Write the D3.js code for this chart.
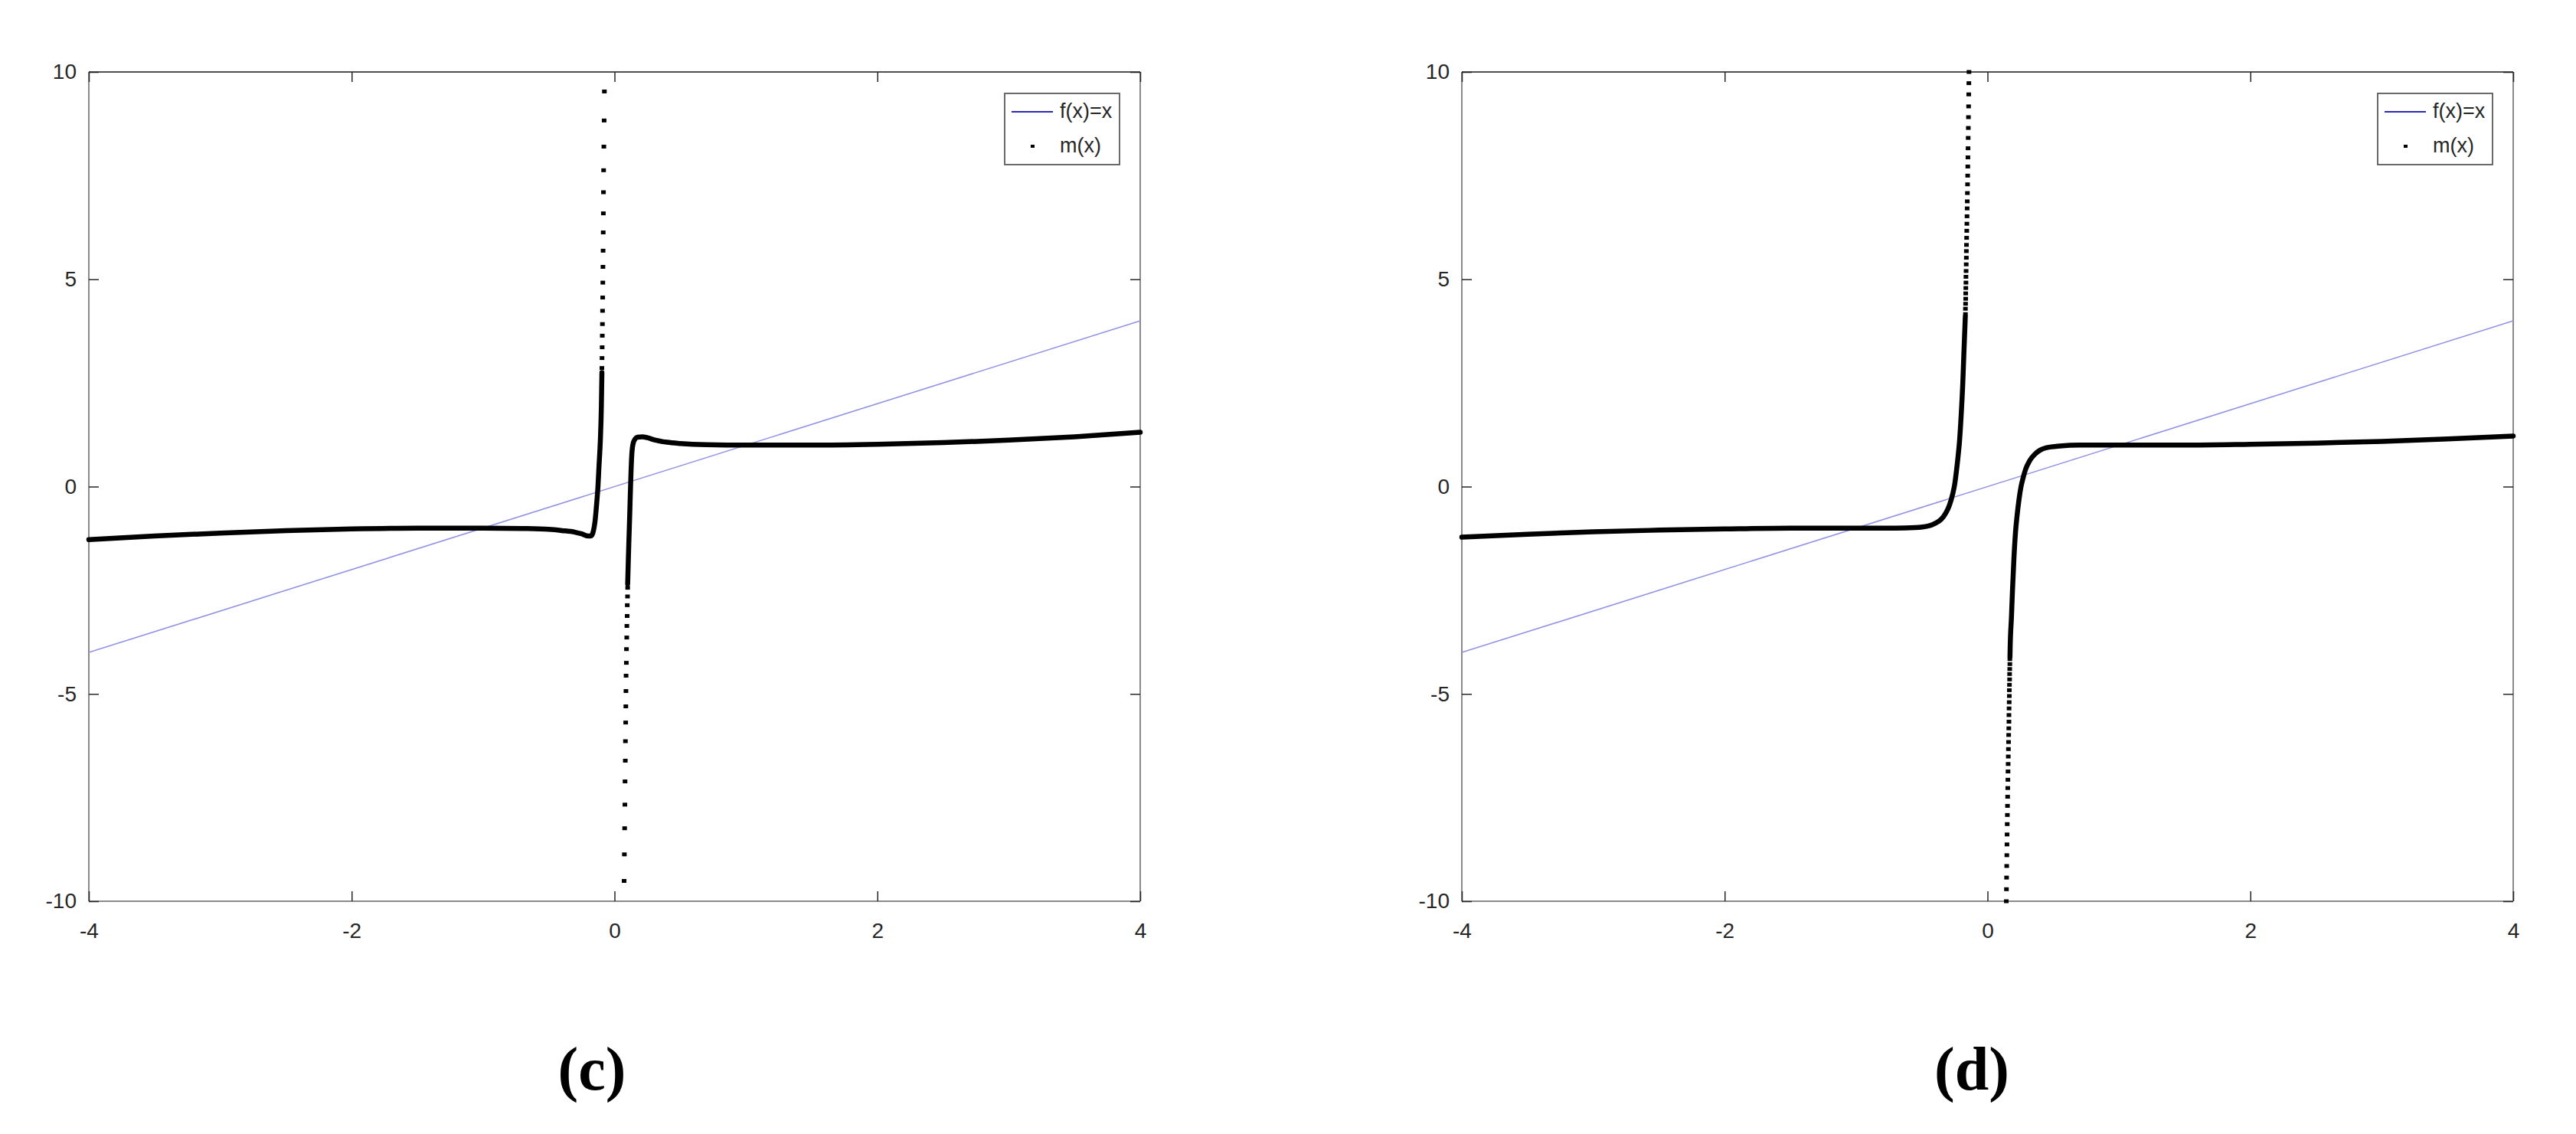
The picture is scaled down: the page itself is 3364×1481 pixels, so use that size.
<!DOCTYPE html>
<html><head><meta charset="utf-8">
<script src="https://cdn.jsdelivr.net/npm/d3@7"></script>
<style>body{margin:0;background:#fff} svg{display:block}</style>
</head><body>
<svg id="chart" width="3364" height="1481"></svg>
<script>
// ---- data ----
const xTicks = [-4, -2, 0, 2, 4];
const yTicks = [-10, -5, 0, 5, 10];
const xDomain = [-4, 4];
const yDomain = [-10, 10];
const identityX = [-4, 4];
const identityY = [-4, 4];
const legendLabels = ["f(x)=x", "m(x)"];
const panelLabels = ["(c)", "(d)"];

// panel (c): m(x)
const cLeftX = [-4, -3.5, -3, -2.5, -2, -1.5, -1, -0.7, -0.5, -0.4, -0.3, -0.25, -0.2, -0.18, -0.165, -0.155, -0.147, -0.141, -0.133, -0.127, -0.118, -0.108, -0.1, -0.096];
const cLeftY = [-1.28, -1.19, -1.12, -1.06, -1.02, -1.0, -1.0, -1.01, -1.03, -1.06, -1.1, -1.14, -1.19, -1.19, -1.12, -0.98, -0.8, -0.6, -0.3, -0.05, 0.5, 1.1, 1.95, 2.75];
const cUpperX = [-0.096, -0.095, -0.094, -0.093, -0.092, -0.091, -0.090, -0.089, -0.088, -0.087, -0.086, -0.085, -0.084, -0.083, -0.081, -0.079, -0.077];
const cUpperY = [2.86, 3.10, 3.36, 3.64, 3.92, 4.24, 4.56, 4.92, 5.30, 5.69, 6.13, 6.59, 7.10, 7.63, 8.20, 8.83, 9.53];
const cLowerX = [0.073, 0.075, 0.077, 0.079, 0.080, 0.082, 0.083, 0.085, 0.086, 0.087, 0.088, 0.090, 0.091, 0.093, 0.094, 0.096, 0.097, 0.099, 0.100];
const cLowerY = [-9.51, -8.87, -8.24, -7.67, -7.11, -6.61, -6.14, -5.69, -5.30, -4.93, -4.56, -4.25, -3.92, -3.64, -3.36, -3.12, -2.86, -2.65, -2.44];
const cRightX = [0.100, 0.104, 0.108, 0.112, 0.116, 0.120, 0.125, 0.131, 0.14, 0.155, 0.175, 0.21, 0.25, 0.3, 0.4, 0.5, 0.7, 1, 1.5, 2, 2.5, 3, 3.5, 4];
const cRightY = [-2.35, -1.9, -1.45, -1.05, -0.65, -0.2, 0.3, 0.75, 1.02, 1.14, 1.19, 1.2, 1.18, 1.13, 1.07, 1.04, 1.01, 1.0, 1.0, 1.02, 1.06, 1.12, 1.2, 1.31];

// panel (d): m(x)
const dLeftX = [-4, -3.5, -3, -2.5, -2, -1.5, -1, -0.7, -0.55, -0.45, -0.4, -0.35, -0.314, -0.29, -0.265, -0.25, -0.236, -0.225, -0.213, -0.2, -0.188, -0.18, -0.172, -0.169];
const dLeftY = [-1.22, -1.15, -1.09, -1.05, -1.02, -1.0, -1.0, -1.0, -0.99, -0.95, -0.89, -0.78, -0.62, -0.45, -0.18, 0.05, 0.39, 0.7, 1.1, 1.75, 2.51, 3.2, 3.85, 4.1];
const dUpperX = [-0.141, -0.142, -0.143, -0.144, -0.145, -0.146, -0.147, -0.148, -0.149, -0.150, -0.151, -0.152, -0.153, -0.154, -0.155, -0.156, -0.157, -0.158, -0.159, -0.160, -0.161, -0.161, -0.162, -0.163, -0.164, -0.164, -0.165, -0.166, -0.166, -0.167, -0.168, -0.168];
const dUpperY = [10.0, 9.73, 9.46, 9.17, 8.91, 8.65, 8.41, 8.16, 7.94, 7.72, 7.50, 7.29, 7.08, 6.88, 6.71, 6.52, 6.34, 6.17, 6.00, 5.83, 5.68, 5.52, 5.36, 5.20, 5.06, 4.92, 4.79, 4.66, 4.53, 4.41, 4.29, 4.16];
const dLowerX = [0.143, 0.144, 0.145, 0.146, 0.147, 0.148, 0.149, 0.150, 0.151, 0.152, 0.153, 0.154, 0.155, 0.156, 0.157, 0.158, 0.159, 0.160, 0.161, 0.162, 0.163, 0.163, 0.164, 0.165, 0.166, 0.166, 0.167, 0.168, 0.168, 0.169, 0.170, 0.170];
const dLowerY = [-10.0, -9.71, -9.43, -9.15, -8.89, -8.63, -8.39, -8.14, -7.92, -7.70, -7.48, -7.27, -7.07, -6.87, -6.69, -6.51, -6.33, -6.16, -5.99, -5.83, -5.67, -5.51, -5.35, -5.20, -5.05, -4.91, -4.78, -4.65, -4.52, -4.40, -4.28, -4.16];
const dRightX = [0.171, 0.172, 0.182, 0.19, 0.201, 0.213, 0.225, 0.24, 0.255, 0.27, 0.29, 0.32, 0.36, 0.4, 0.45, 0.55, 0.7, 1, 1.5, 2, 2.5, 3, 3.5, 4];
const dRightY = [-4.1, -3.92, -3.15, -2.5, -1.73, -1.1, -0.7, -0.3, 0.0, 0.2, 0.42, 0.62, 0.78, 0.88, 0.94, 0.98, 1.0, 1.0, 1.0, 1.02, 1.05, 1.09, 1.15, 1.22];

// ---- layout ----
const plotW = 1373, plotH = 1083, plotTop = 94;
const panels = [
  {left: 116, label: panelLabels[0], labelX: 773,
   curves: [[cLeftX, cLeftY], [cRightX, cRightY]], dots: [[cUpperX, cUpperY], [cLowerX, cLowerY]]},
  {left: 1909, label: panelLabels[1], labelX: 2575,
   curves: [[dLeftX, dLeftY], [dRightX, dRightY]], dots: [[dUpperX, dUpperY], [dLowerX, dLowerY]]}
];

const svg = d3.select("#chart");
svg.append("rect").attr("width", 3364).attr("height", 1481).attr("fill", "#fff");
const font = "'Liberation Sans', Arial, sans-serif";

panels.forEach(p => {
  const g = svg.append("g").attr("transform", `translate(${p.left},${plotTop})`);
  const x = d3.scaleLinear().domain(xDomain).range([0, plotW]);
  const y = d3.scaleLinear().domain(yDomain).range([plotH, 0]);

  // frame
  g.append("line").attr("x1", 0).attr("x2", plotW).attr("y1", 0).attr("y2", 0).attr("stroke", "#505050").attr("stroke-width", 2);
  g.append("line").attr("x1", 0).attr("x2", plotW).attr("y1", plotH).attr("y2", plotH).attr("stroke", "#8a8a8a").attr("stroke-width", 2);
  g.append("line").attr("x1", 0).attr("x2", 0).attr("y1", 0).attr("y2", plotH).attr("stroke", "#8a8a8a").attr("stroke-width", 2);
  g.append("line").attr("x1", plotW).attr("x2", plotW).attr("y1", 0).attr("y2", plotH).attr("stroke", "#8a8a8a").attr("stroke-width", 2);

  const styleAxis = sel => {
    sel.select(".domain").remove();
    sel.selectAll(".tick line").attr("stroke", "#262626").attr("stroke-width", 1.5);
    sel.selectAll(".tick text").attr("fill", "#262626").style("font-family", font).style("font-size", "28px");
  };
  g.append("g").attr("transform", `translate(0,${plotH})`)
    .call(d3.axisBottom(x).tickValues(xTicks).tickSizeInner(-13).tickSizeOuter(0).tickPadding(28).tickFormat(d3.format("d")))
    .call(styleAxis);
  g.append("g")
    .call(d3.axisTop(x).tickValues(xTicks).tickSizeInner(-13).tickSizeOuter(0).tickFormat(""))
    .call(styleAxis);
  g.append("g")
    .call(d3.axisLeft(y).tickValues(yTicks).tickSizeInner(-13).tickSizeOuter(0).tickPadding(16).tickFormat(d3.format("d")))
    .call(styleAxis);
  g.append("g").attr("transform", `translate(${plotW},0)`)
    .call(d3.axisRight(y).tickValues(yTicks).tickSizeInner(-13).tickSizeOuter(0).tickFormat(""))
    .call(styleAxis);
  g.selectAll("text").filter(function(){ return this.textContent.startsWith("−"); })
    .text(function(){ return this.textContent.replace("−", "-"); });

  // f(x)=x
  const line = d3.line().x(d => x(d[0])).y(d => y(d[1]));
  g.append("path").datum(d3.zip(identityX, identityY)).attr("d", line)
    .attr("fill", "none").attr("stroke", "#9393e6").attr("stroke-width", 1.6);

  // m(x) dense parts
  const curveLine = d3.line().x(d => x(d[0])).y(d => y(d[1])).curve(d3.curveMonotoneX);
  p.curves.forEach(([xs, ys]) => {
    g.append("path").datum(d3.zip(xs, ys)).attr("d", curveLine)
      .attr("fill", "none").attr("stroke", "#000").attr("stroke-width", 6.5)
      .attr("stroke-linejoin", "round").attr("stroke-linecap", "round");
  });
  // m(x) sparse dots
  p.dots.forEach(([xs, ys]) => {
    g.selectAll(null).data(d3.zip(xs, ys)).enter().append("rect")
      .attr("x", d => x(d[0]) - 3).attr("y", d => y(d[1]) - 2.5)
      .attr("width", 6).attr("height", 5).attr("fill", "#000");
  });

  // legend
  const lx = plotW - 27 - 150, ly = 28;
  const lg = g.append("g").attr("transform", `translate(${lx},${ly})`);
  lg.append("rect").attr("width", 150).attr("height", 93).attr("fill", "#fff")
    .attr("stroke", "#5a5a5a").attr("stroke-width", 1.8);
  lg.append("line").attr("x1", 9).attr("x2", 63).attr("y1", 24).attr("y2", 24)
    .attr("stroke", "#2a2ab4").attr("stroke-width", 2);
  lg.append("rect").attr("x", 34).attr("y", 67).attr("width", 5).attr("height", 4).attr("fill", "#000");
  lg.selectAll("text.leg").data(legendLabels).enter().append("text").attr("class", "leg")
    .attr("x", 72).attr("y", (d, i) => i === 0 ? 32 : 77)
    .attr("fill", "#262626").style("font-family", font).style("font-size", "27px").text(d => d);

  // panel label
  svg.append("text").attr("x", p.labelX).attr("y", 1423).attr("text-anchor", "middle")
    .style("font-family", "'Liberation Serif', 'Times New Roman', serif").style("font-weight", "bold")
    .style("font-size", "80px").attr("fill", "#000").text(p.label);
});
</script>
</body></html>
